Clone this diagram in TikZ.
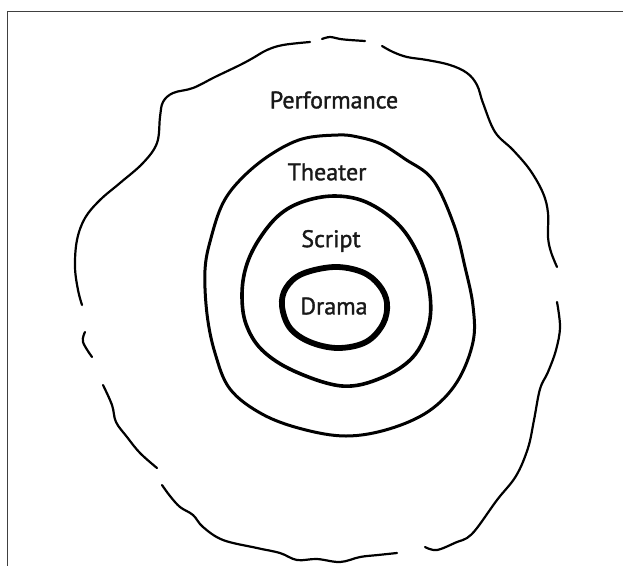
\documentclass[tikz,border=0pt]{standalone}
\usepackage{fontspec}
\setmainfont{PT Sans}
\newfontfamily\labelfont[FakeBold=1.3]{PT Sans}
\tikzset{
  ring/.style={draw=black, line cap=round, line join=round},
  ringlabel/.style={inner sep=0pt, font=\labelfont\fontsize{24}{28}\selectfont, text=black!90},
  framestyle/.style={draw=black!75, line width=1pt}
}
\begin{document}
\begin{tikzpicture}[x=1pt, y=-1pt]
\useasboundingbox (0,0) rectangle (623,565);
\fill[white] (0,0) rectangle (623,565);
\draw[framestyle] (7,566) -- (7,11) -- (624,11);

% outer ring (Performance), drawn in broken pieces
\begin{scope}[ring, line width=2.2pt]
\draw plot[smooth, tension=0.6] coordinates {(310,42) (283,45) (267,50) (253,58) (240,65) (215,77) (193,88) (173,93) (163,102) (160,117) (157,143) (143,163) (120,183) (100,200) (85,218) (77,240) (75,267) (78,290) (82,305)};
\draw plot[smooth, tension=0.6] coordinates {(322,39) (330,37) (340,39) (350,40) (365,41)};
\draw plot[smooth, tension=0.6] coordinates {(382,46) (393,52) (407,57) (427,60) (450,65) (467,73) (477,85) (483,103) (495,132) (513,150) (530,170) (543,193) (548,213) (548,237) (551,252) (557,267)};
\draw plot[smooth, tension=0.6] coordinates {(557,302) (560,327) (556,350) (548,372) (540,389) (534,420) (528,448) (516,476) (497,500) (477,528) (467,538) (457,542) (437,550) (425,547)};
\draw plot[smooth, tension=0.6] coordinates {(397,553) (378,555) (360,557) (340,562) (317,559) (297,560) (280,553) (257,548) (223,540) (203,527) (193,515) (180,507) (170,496) (162,485)};
\draw plot[smooth, tension=0.6] coordinates {(157,468) (140,453) (127,437) (116,422) (112,405) (103,385)};
\draw plot[smooth, tension=0.6] coordinates {(85,332) (83,342) (92,357)};
\end{scope}

% Theater ring
\draw[ring, line width=3pt] plot[smooth cycle, tension=0.6] coordinates {(338,135) (302,139) (270,155) (242,178) (223,203) (211,238) (205,270) (207,314) (215,353) (230,389) (262,414) (302,429) (346,436) (389,429) (429,411) (457,382) (473,342) (473,306) (465,267) (454,225) (433,180) (405,159) (381,144) (358,137)};

% Script ring
\draw[ring, line width=3.6pt] plot[smooth cycle, tension=0.6] coordinates {(334,196) (302,202) (278,216) (258,241) (246,267) (242,295) (246,324) (262,350) (294,371) (342,386) (381,378) (413,357) (429,324) (429,288) (417,252) (397,223) (366,202)};

% Drama ring
\draw[ring, line width=5.8pt] plot[smooth cycle, tension=0.6] coordinates {(334,267) (302,274) (286,288) (282,306) (290,328) (310,342) (338,348) (366,342) (383,324) (387,303) (379,285) (362,272)};

\node[ringlabel] (performance) at (334,100) {Performance};
\node[ringlabel] (theater) at (327,172) {Theater};
\node[ringlabel] (script) at (331,241) {Script};
\node[ringlabel] (drama) at (334,306) {Drama};
\end{tikzpicture}
\end{document}
